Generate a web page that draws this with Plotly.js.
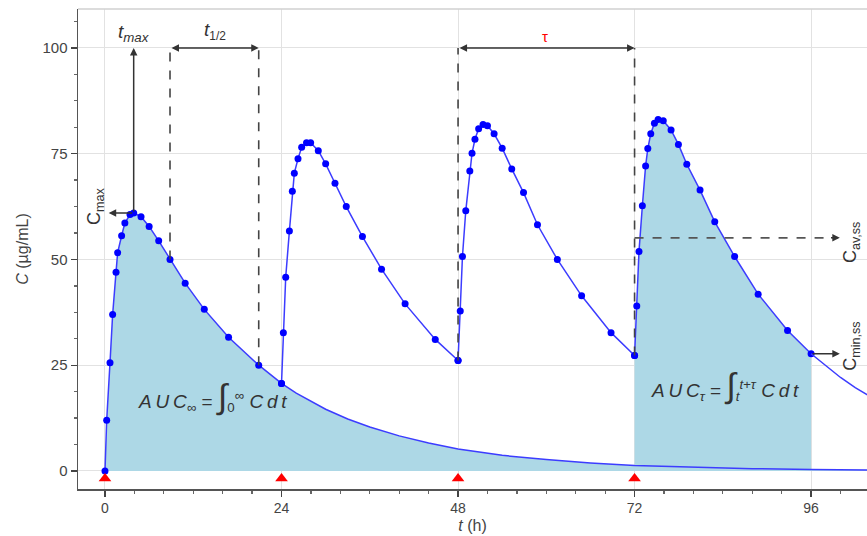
<!DOCTYPE html>
<html>
<head>
<meta charset="utf-8">
<script src="https://cdn.plot.ly/plotly-3.0.1.min.js"></script>
<style>html,body{margin:0;padding:0;background:#fff;}#chart{width:867px;height:536px;}</style>
</head>
<body>
<div id="chart"></div>
<script>
// ---- data ----
const dose1T = [0, 0.23, 0.68, 1.04, 1.5, 1.72, 2.26, 2.7, 3.4, 3.9, 4.9, 6.0, 7.3, 8.84, 10.9, 13.5, 16.8, 20.9, 24.0];
const dose1C = [0, 12, 25.6, 37, 47, 51.6, 55.6, 58.6, 60.6, 61.0, 60.1, 57.8, 54.4, 50.0, 44.4, 38.2, 31.6, 25.0, 20.7];

const tailT = [24, 26, 28, 30, 33, 36, 40, 44, 48, 54, 60, 66, 72, 80, 88, 96, 104];
const tailC = [20.7, 18.4, 16.4, 14.6, 12.3, 10.4, 8.3, 6.6, 5.2, 3.7, 2.7, 1.9, 1.3, 0.85, 0.55, 0.35, 0.22];

const dose2T = [24.0, 24.25, 24.57, 25.07, 25.47, 25.74, 26.24, 26.74, 27.4, 27.96, 29.0, 30.0, 31.27, 32.8, 35.0, 37.6, 40.8, 44.9, 48.0];
const dose2C = [20.7, 32.7, 45.8, 56.7, 66.1, 70.4, 73.8, 76.5, 77.6, 77.6, 75.7, 72.6, 68.0, 62.5, 55.4, 47.7, 39.5, 31.1, 26.1];

const dose3T = [48.0, 48.3, 48.6, 49.05, 49.6, 49.9, 50.3, 50.8, 51.4, 52.0, 52.9, 54.0, 55.3, 56.9, 58.8, 61.5, 64.8, 68.8, 72.0];
const dose3C = [26.1, 37.8, 50.7, 61.5, 70.9, 75.1, 78.4, 80.9, 81.9, 81.6, 79.7, 76.3, 71.4, 65.8, 58.2, 50.0, 41.4, 32.7, 27.3];

const dose4T = [72.0, 72.3, 72.6, 73.06, 73.5, 73.8, 74.2, 74.7, 75.2, 75.9, 76.96, 77.96, 79.1, 80.9, 82.9, 85.6, 88.8, 92.8, 96.0];
const dose4C = [27.3, 39.0, 51.9, 62.7, 72.1, 76.2, 79.7, 82.2, 83.1, 82.8, 80.6, 77.2, 72.5, 66.4, 58.9, 50.7, 41.8, 33.2, 27.7];

const afterT = [96, 98, 100, 102, 104];
const afterC = [27.7, 24.8, 22.1, 19.7, 17.6];

const doseTimes = [0, 24, 48, 72];
const doseMarkY = [-1.8, -1.8, -1.8, -1.8];

const xTickVals = [0, 24, 48, 72, 96];
const yTickVals = [0, 25, 50, 75, 100];

// key values for annotations
const tMax = 3.9, cMax = 61.0;
const tHalfA = 8.84, cHalfA = 50.0, tHalfB = 20.9, cHalfB = 25.0;
const tauStart = 48, tauStartC = 26.1, tauEnd = 72, tauEndC = 27.3;
const cAvSS = 55.1, cMinSS = 27.7, tEnd = 96;
const topLevel = 100;

// ---- styling ----
const FONT = 'Liberation Sans, Arial, sans-serif';
const LINE = 'rgb(60,60,255)';
const MARK = '#0000ff';
const FILL = '#add8e6';
const DARK = '#333';
const TS = '\u2009';

const traces = [
  { x: dose4T, y: dose4C, mode: 'lines+markers', fill: 'tozeroy', fillcolor: FILL,
    line: {color: LINE, width: 1.5}, marker: {color: MARK, size: 7} },
  { x: dose1T.concat(tailT.slice(1)), y: dose1C.concat(tailC.slice(1)), mode: 'lines', fill: 'tozeroy', fillcolor: FILL,
    line: {color: LINE, width: 1.5} },
  { x: dose1T, y: dose1C, mode: 'markers', marker: {color: MARK, size: 7} },
  { x: dose2T, y: dose2C, mode: 'lines+markers', line: {color: LINE, width: 1.5}, marker: {color: MARK, size: 7} },
  { x: dose3T, y: dose3C, mode: 'lines+markers', line: {color: LINE, width: 1.5}, marker: {color: MARK, size: 7} },
  { x: afterT, y: afterC, mode: 'lines', line: {color: LINE, width: 1.5} },
  { x: doseTimes, y: doseMarkY, mode: 'markers', marker: {symbol: 'triangle-up', color: '#ff0000', size: 11}, cliponaxis: false }
];

function dashV(x, y0, y1) {
  return {type: 'line', xref: 'x', yref: 'y', x0: x, x1: x, y0: y0, y1: y1,
          line: {color: '#444', width: 1.6, dash: 'dash'}};
}

const shapes = [
  {type: 'line', xref: 'paper', yref: 'paper', x0: 0, x1: 1, y0: 1, y1: 1, line: {color: '#d0d0d0', width: 1.5}},
  dashV(tHalfA, cHalfA, topLevel),
  dashV(tHalfB, cHalfB, topLevel),
  dashV(tauStart, tauStartC, topLevel),
  dashV(tauEnd, tauEndC, topLevel),
  {type: 'line', xref: 'x', yref: 'y', x0: tauEnd, x1: 99.0, y0: cAvSS, y1: cAvSS,
   line: {color: '#555', width: 1.6, dash: 'dash'}}
];

function arrow(x, y, ax, ay, side) {
  return {x: x, y: y, ax: ax, ay: ay, xref: 'x', yref: 'y', axref: 'x', ayref: 'y',
          text: '', showarrow: true, arrowhead: 2, arrowsize: 1, arrowwidth: 1.5,
          arrowcolor: DARK, standoff: 0, startstandoff: 0, arrowside: side || 'end'};
}
function label(x, y, text, size, color, angle) {
  return {x: x, y: y, xref: 'x', yref: 'y', text: text, showarrow: false,
          font: {family: FONT, size: size, color: color || DARK}, textangle: angle || 0};
}

const annotations = [
  arrow(tMax, topLevel, tMax, cMax),
  arrow(0.5, cMax, tMax, cMax),
  arrow(tHalfB, topLevel, tHalfA, topLevel, 'end+start'),
  arrow(tauEnd, topLevel, tauStart, topLevel, 'end+start'),
  arrow(99.9, cAvSS, 98.5, cAvSS),
  arrow(99.9, cMinSS, tEnd, cMinSS),
  label(4.0, 103.6, '<i>t</i><sub><i>max</i></sub>', 19, '#333'),
  label(15.0, 104.0, '<i>t</i><span style="font-size:17px"><sub>1/2</sub></span>', 19, '#333'),
  label(59.8, 102.8, 'τ', 15, '#ff0000'),
  label(-1.3, 62.5, 'C<sub>max</sub>', 18, '#333', -90),
  label(101.5, 54.0, 'C<sub>av,ss</sub>', 18, '#333', -90),
  label(101.5, 29.5, 'C<sub>min,ss</sub>', 18, '#333', -90),
  label(14.6, 17.5, '<i>A' + TS + 'U' + TS + 'C</i><sub><i>∞</i></sub> = <span style="font-size:34px">∫</span><sub>0</sub><sup>∞</sup> <i>C' + TS + 'd' + TS + 't</i>', 19, '#333'),
  label(84.3, 20.2, '<i>A' + TS + 'U' + TS + 'C</i><sub><i>τ</i></sub> = <span style="font-size:34px">∫</span><sub><i>t</i></sub><sup><i>t+τ</i></sup> <i>C' + TS + 'd' + TS + 't</i>', 19, '#333')
];

const layout = {
  width: 867, height: 536,
  margin: {l: 78, r: 0, t: 9, b: 47},
  paper_bgcolor: '#fff', plot_bgcolor: '#fff',
  showlegend: false,
  font: {family: FONT, color: '#444', size: 14},
  xaxis: {
    range: [-3.67, 103.6], tickvals: xTickVals, ticktext: xTickVals.map(String),
    ticks: 'outside', ticklen: 6, tickwidth: 1.3, tickcolor: '#444',
    showline: true, linecolor: '#555', linewidth: 1.5,
    showgrid: true, gridcolor: '#e2e2e2', gridwidth: 1, zeroline: false,
    minor: {dtick: 4, tick0: 0, ticks: 'outside', ticklen: 3, tickcolor: '#666', showgrid: false},
    tickfont: {size: 14, color: '#444', family: FONT},
    title: {text: '<i>t</i> (h)', font: {size: 16, color: '#444', family: FONT}, standoff: 4}
  },
  yaxis: {
    range: [-4.26, 109.2], tickvals: yTickVals, ticktext: yTickVals.map(String),
    ticks: 'outside', ticklen: 6, tickwidth: 1.3, tickcolor: '#444',
    showline: true, linecolor: '#555', linewidth: 1.5,
    showgrid: true, gridcolor: '#e2e2e2', gridwidth: 1, zeroline: false,
    minor: {dtick: 6.25, tick0: 0, ticks: 'outside', ticklen: 3, tickcolor: '#666', showgrid: false},
    tickfont: {size: 15, color: '#444', family: FONT},
    title: {text: '<i>C</i> (µg/mL)', font: {size: 16, color: '#444', family: FONT}, standoff: 10}
  },
  shapes: shapes,
  annotations: annotations
};

Plotly.newPlot('chart', traces, layout, {staticPlot: true, displayModeBar: false});
</script>
</body>
</html>
